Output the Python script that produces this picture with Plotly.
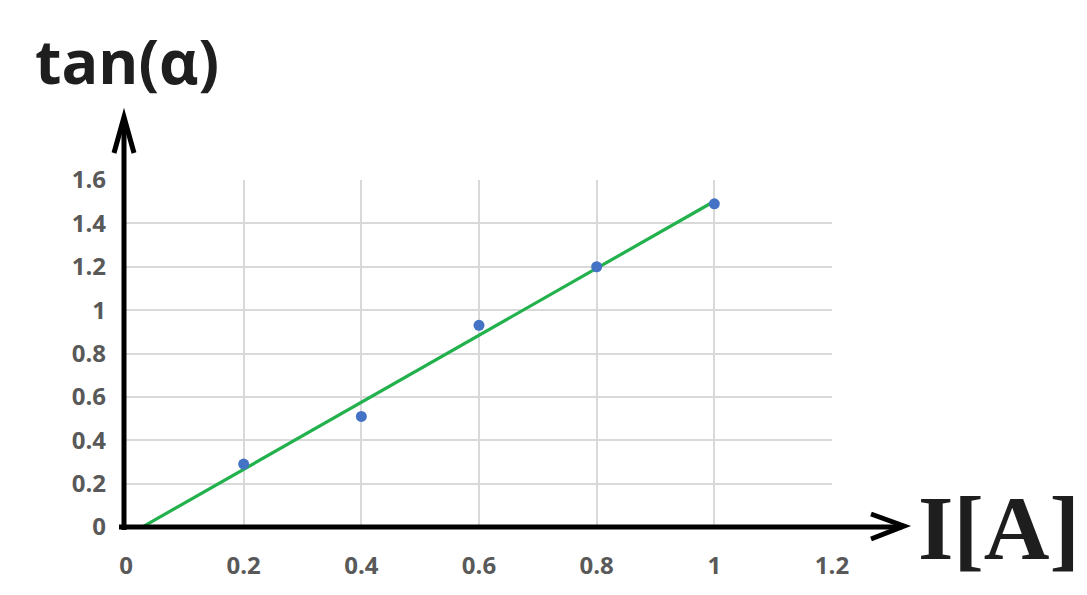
import numpy as np
import plotly.graph_objects as go

# ---- data ----
current_A = [0.2, 0.4, 0.6, 0.8, 1.0]
tan_alpha = [0.29, 0.51, 0.93, 1.20, 1.49]
x_ticks = [0, 0.2, 0.4, 0.6, 0.8, 1.0, 1.2]
x_tick_labels = ["0", "0.2", "0.4", "0.6", "0.8", "1", "1.2"]
y_ticks = [0, 0.2, 0.4, 0.6, 0.8, 1.0, 1.2, 1.4, 1.6]
y_tick_labels = ["0", "0.2", "0.4", "0.6", "0.8", "1", "1.2", "1.4", "1.6"]

# linear trendline (least squares)
slope, intercept = np.polyfit(current_A, tan_alpha, 1)
trend_x = [0.0, max(current_A)]
trend_y = [slope * v + intercept for v in trend_x]

OFF = 8  # default body margin of the html page
W, H = 1087 - OFF, 595 - OFF
L, T = 126 - OFF, 180 - OFF
R = 1087 - 832
B = 595 - 527
PW, PH = W - L - R, H - T - B


def px(x):
    return (x - OFF - L) / PW


def py(y):
    return (T + PH - (y - OFF)) / PH


fig = go.Figure()
fig.add_trace(go.Scatter(x=trend_x, y=trend_y, mode="lines",
                         line=dict(color="#22B14C", width=3.2), showlegend=False,
                         hoverinfo="skip"))
fig.add_trace(go.Scatter(x=current_A, y=tan_alpha, mode="markers",
                         marker=dict(color="#4472C4", size=11), showlegend=False))

tickfont = dict(family="Open Sans", size=24, color="#595959", weight="bold")

fig.update_xaxes(range=[0, 1.2], tickvals=x_ticks, ticktext=x_tick_labels,
                 showgrid=True, gridcolor="#d9d9d9", gridwidth=1.5,
                 zeroline=False, showline=False, ticks="", tickfont=tickfont,
                 ticklabelstandoff=22, fixedrange=True, automargin=False)
fig.update_yaxes(range=[0, 1.6], tickvals=y_ticks, ticktext=y_tick_labels,
                 showgrid=True, gridcolor="#d9d9d9", gridwidth=1.5,
                 zeroline=False, showline=False, ticks="", tickfont=tickfont,
                 ticklabelstandoff=19, fixedrange=True, automargin=False)

shapes = []
black = dict(color="black", width=5)
# y axis shaft + arrowhead
shapes.append(dict(type="line", xref="paper", yref="paper",
                   x0=px(124), x1=px(124), y0=py(530), y1=py(118), line=black))
shapes.append(dict(type="path", xref="paper", yref="paper",
                   path=f"M{px(114)},{py(153)} L{px(124)},{py(117)} L{px(134)},{py(153)}",
                   line=black))
# x axis shaft + arrowhead
shapes.append(dict(type="line", xref="paper", yref="paper",
                   x0=px(119), x1=px(902), y0=py(527), y1=py(527), line=black))
shapes.append(dict(type="path", xref="paper", yref="paper",
                   path=f"M{px(871)},{py(514)} L{px(904)},{py(526)} L{px(871)},{py(539)}",
                   line=black))
fig.update_layout(shapes=shapes)

fig.add_annotation(text="tan(α)", xref="paper", yref="paper",
                   x=px(33), y=py(104), xanchor="left", yanchor="bottom",
                   showarrow=False,
                   font=dict(family="Open Sans", size=61, color="#1e1e1e", weight="bold"))
fig.add_annotation(text="I[A]", xref="paper", yref="paper",
                   x=px(916), y=py(528), xanchor="left", yanchor="middle",
                   showarrow=False,
                   font=dict(family="Liberation Serif", size=91, color="#1e1e1e", weight="bold"))

fig.update_layout(width=W, height=H, margin=dict(l=L, r=R, t=T, b=B),
                  plot_bgcolor="white", paper_bgcolor="white")

fig.write_html("out.html")
